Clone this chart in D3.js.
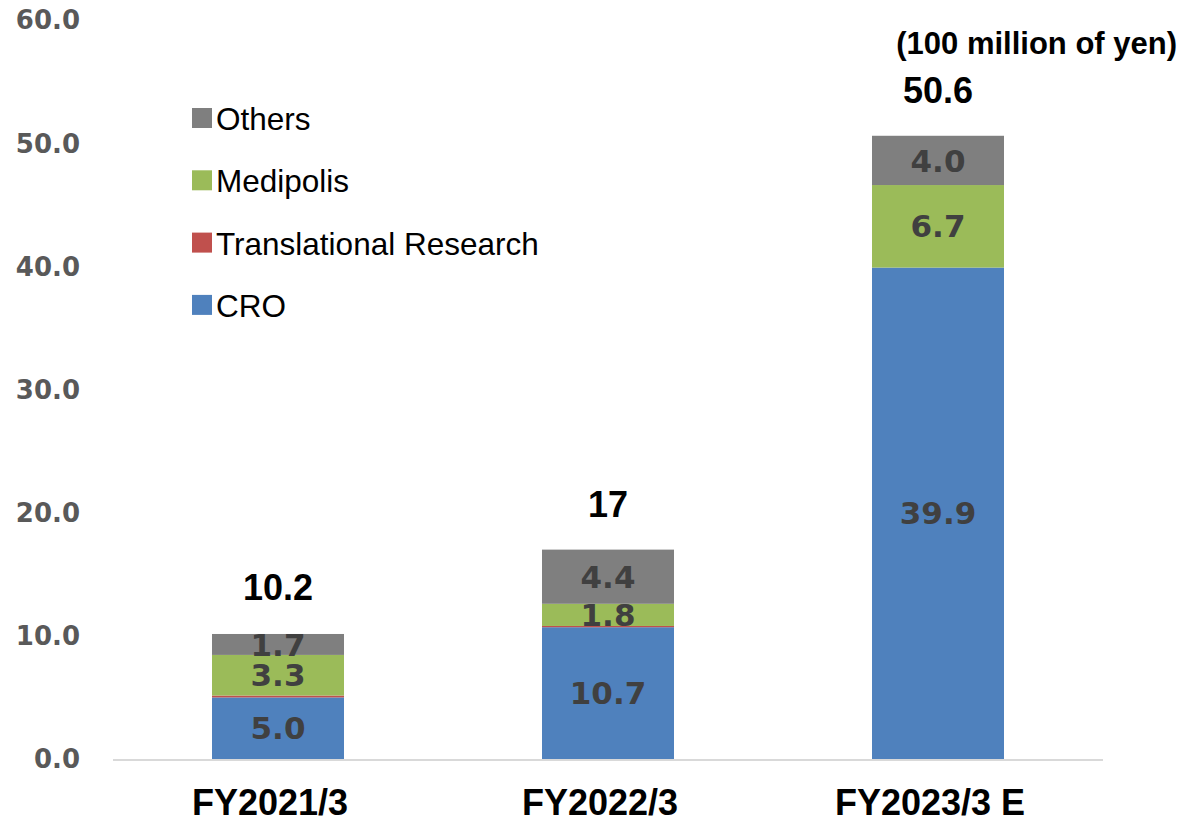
<!DOCTYPE html>
<html>
<head>
<meta charset="utf-8">
<script src="https://cdn.jsdelivr.net/npm/d3@7"></script>
<style>
	html, body { margin: 0; padding: 0; background: #fff; }
</style>
</head>
<body>
<div id="chart"></div>
<script>

// chart data
var categories = ["FY2021/3", "FY2022/3", "FY2023/3 E"];
var seriesNames = ["CRO", "Translational Research", "Medipolis", "Others"];
var croValues = [5.0, 10.7, 39.9];
var trValues = [0.15, 0.1, 0];
var medipolisValues = [3.3, 1.8, 6.7];
var othersValues = [1.7, 4.4, 4.0];
var totalLabels = ["10.2", "17", "50.6"];
var yTicks = [0, 10, 20, 30, 40, 50, 60];
var unitLabel = "(100 million of yen)";

var colors = {
	"CRO": "#4F81BD",
	"Translational Research": "#C0504D",
	"Medipolis": "#9BBB59",
	"Others": "#7F7F7F"
};

var width = 1182, height = 822;
var axisFont = "'DejaVu Sans', Verdana, sans-serif";
var textFont = "'Liberation Sans', Arial, sans-serif";

var svg = d3.select("#chart").append("svg")
	.attr("width", width)
	.attr("height", height);

// build table rows for the stack
var rows = categories.map(function(c, i){
	return {
		category: c,
		"CRO": croValues[i],
		"Translational Research": trValues[i],
		"Medipolis": medipolisValues[i],
		"Others": othersValues[i],
		total: +totalLabels[i]
	};
});

var x = d3.scaleBand()
	.domain(categories)
	.range([113, 1103])
	.paddingInner(0.6)
	.paddingOuter(0.3);

var y = d3.scaleLinear()
	.domain([0, 60])
	.range([759, 20]);

var stacked = d3.stack().keys(seriesNames)(rows);

// y axis tick labels (no line)
svg.append("g").selectAll("text")
	.data(yTicks)
	.enter().append("text")
	.attr("x", 80)
	.attr("y", function(d){ return y(d); })
	.attr("dy", "0.36em")
	.attr("text-anchor", "end")
	.attr("font-family", axisFont)
	.attr("font-weight", "bold")
	.attr("font-size", 26)
	.attr("fill", "#595959")
	.text(function(d){ return d.toFixed(1); });

// bars
var layers = svg.append("g").selectAll("g")
	.data(stacked)
	.enter().append("g")
	.attr("fill", function(d){ return colors[d.key]; });

layers.selectAll("rect")
	.data(function(d){ return d; })
	.enter().append("rect")
	.attr("x", function(d){ return x(d.data.category); })
	.attr("y", function(d){ return y(d[1]); })
	.attr("width", x.bandwidth())
	.attr("height", function(d){ return y(d[0]) - y(d[1]); });

// baseline
svg.append("line")
	.attr("x1", x.range()[0])
	.attr("x2", x.range()[1])
	.attr("y1", y(0) + 1)
	.attr("y2", y(0) + 1)
	.attr("stroke", "#D9D9D9")
	.attr("stroke-width", 2);

// values inside the segments (skip the thin red one)
stacked.forEach(function(layer){
	if(layer.key === "Translational Research") return;
	svg.append("g").selectAll("text")
		.data(layer)
		.enter().append("text")
		.attr("x", function(d){ return x(d.data.category) + x.bandwidth() / 2; })
		.attr("y", function(d){ return (y(d[0]) + y(d[1])) / 2; })
		.attr("dy", "0.36em")
		.attr("text-anchor", "middle")
		.attr("font-family", axisFont)
		.attr("font-weight", "bold")
		.attr("font-size", 31)
		.attr("fill", "#404040")
		.text(function(d){ return (d[1] - d[0]).toFixed(1); });
});

// totals above bars
svg.append("g").selectAll("text")
	.data(rows)
	.enter().append("text")
	.attr("x", function(d){ return x(d.category) + x.bandwidth() / 2; })
	.attr("y", function(d){ return y(d.total) - 33; })
	.attr("text-anchor", "middle")
	.attr("font-family", textFont)
	.attr("font-weight", "bold")
	.attr("font-size", 36)
	.attr("fill", "#000")
	.text(function(d, i){ return totalLabels[i]; });

// category labels
svg.append("g").selectAll("text")
	.data(categories)
	.enter().append("text")
	.attr("x", function(d){ return x(d) + x.bandwidth() / 2 - 8; })
	.attr("y", 815)
	.attr("text-anchor", "middle")
	.attr("font-family", textFont)
	.attr("font-weight", "bold")
	.attr("font-size", 36)
	.attr("fill", "#000")
	.text(function(d){ return d; });

// unit label
svg.append("text")
	.attr("x", 1177)
	.attr("y", 54)
	.attr("text-anchor", "end")
	.attr("font-family", textFont)
	.attr("font-weight", "bold")
	.attr("font-size", 31)
	.attr("fill", "#000")
	.text(unitLabel);

// legend, top series first
var legendItems = seriesNames.slice().reverse();
var legend = svg.append("g").selectAll("g")
	.data(legendItems)
	.enter().append("g")
	.attr("transform", function(d, i){ return "translate(192," + (118 + i * 62.3) + ")"; });

legend.append("rect")
	.attr("x", 0)
	.attr("y", -10)
	.attr("width", 20)
	.attr("height", 20)
	.attr("fill", function(d){ return colors[d]; });

legend.append("text")
	.attr("x", 24)
	.attr("y", 12)
	.attr("font-family", textFont)
	.attr("font-size", 31.5)
	.attr("fill", "#000")
	.text(function(d){ return d; });

</script>
</body>
</html>
